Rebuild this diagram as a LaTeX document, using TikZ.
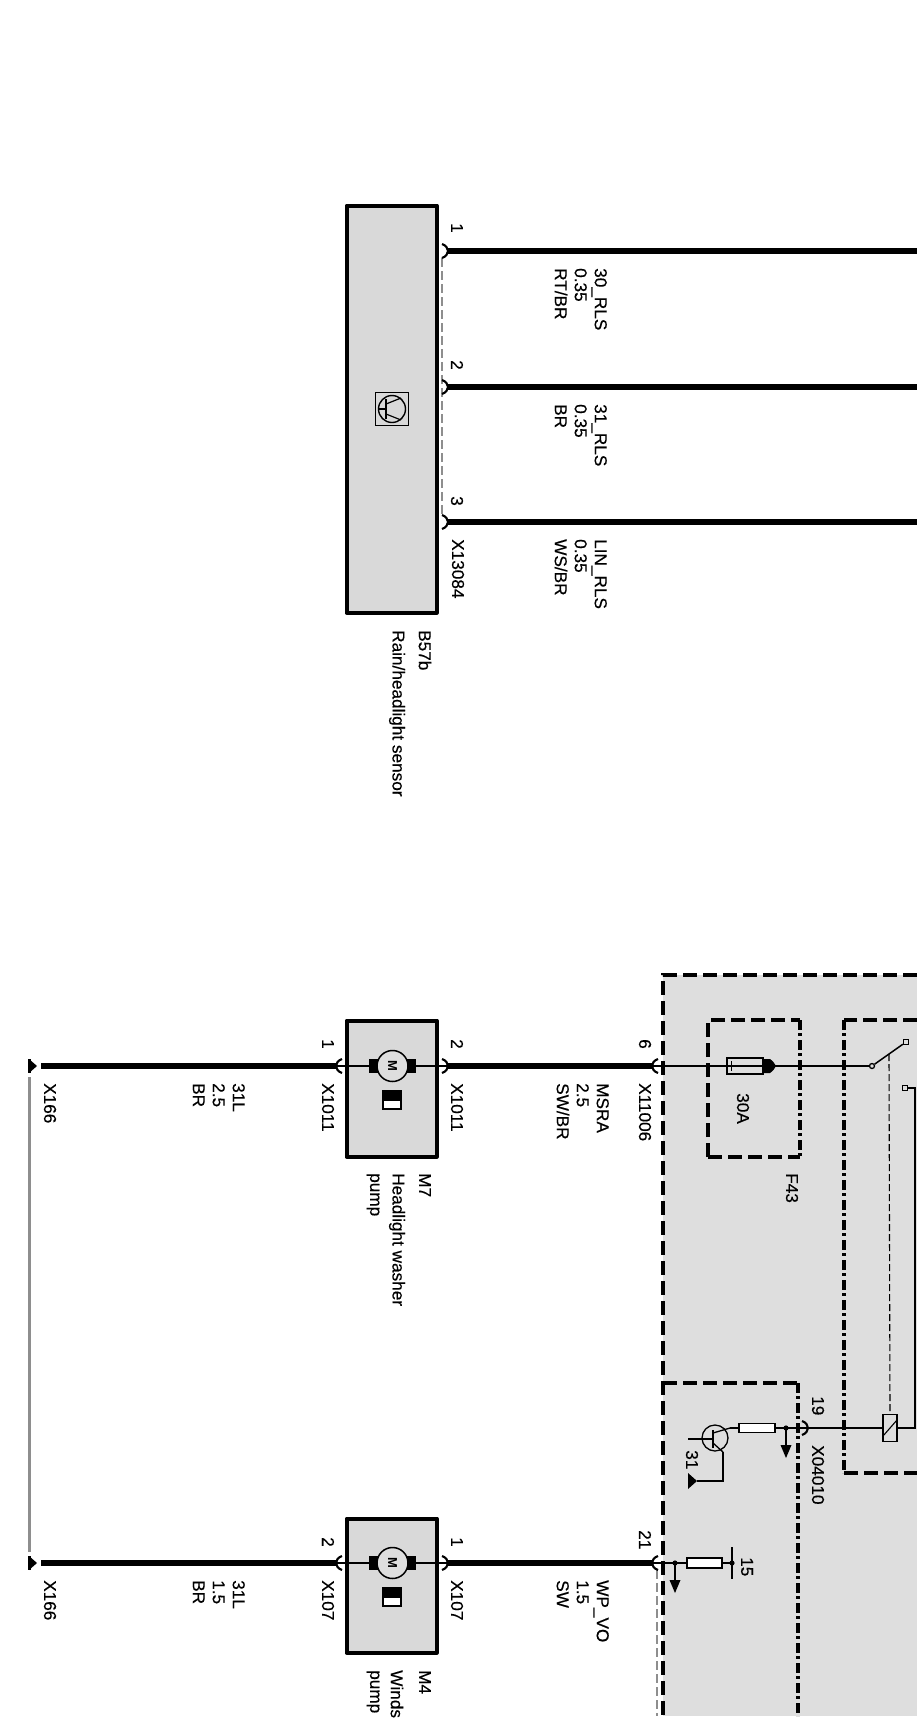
\documentclass[tikz,border=0pt]{standalone}
\usepackage{fontspec}
\setmainfont{Liberation Sans}
\usetikzlibrary{calc}
\definecolor{regiongray}{HTML}{DEDEDE}
\definecolor{boxgray}{HTML}{D9D9D9}
\definecolor{linkgray}{HTML}{8E8E8E}
\newcommand{\lbl}{\fontsize{17.2}{20}\selectfont\addfontfeature{FakeBold=0.35}}
\tikzset{
  x=1pt,y=-1pt,
  lab/.style={inner sep=0pt,rotate=-90,anchor=north west,align=left,font=\lbl},
  labc/.style={inner sep=0pt,rotate=-90,anchor=west,font=\lbl},
  compbox/.style={draw=black,fill=boxgray,line width=4.2pt,line join=round,inner sep=0pt,anchor=north west},
  wire/.style={line width=5.6pt,black},
  thinwire/.style={line width=1.5pt,black},
  regdash/.style={line width=3.6pt,black,dash pattern=on 14pt off 6pt},
  messdash/.style={line width=3.6pt,black,dash pattern=on 10pt off 3pt on 3pt off 4pt},
  linkdash/.style={line width=2.8pt,linkgray,dash pattern=on 9pt off 4pt},
  pinarc/.style={line width=2.1pt,black},
  smallpart/.style={draw=black,line width=1.3pt,inner sep=0pt,anchor=center},
}
\newcommand{\pinR}[1]{\draw[pinarc] ($(#1)+(-5,-7)$) .. controls ($(#1)+(3,-4)$) and ($(#1)+(3,4)$) .. ($(#1)+(-5,7)$);}
\newcommand{\pinL}[1]{\draw[pinarc] ($(#1)+(5,-7)$) .. controls ($(#1)+(-3,-4)$) and ($(#1)+(-3,4)$) .. ($(#1)+(5,7)$);}
\newcommand{\motor}[2]{%
  \node[circle,draw=black,fill=regiongray,line width=1.5pt,minimum size=31pt,inner sep=0pt] (#1c) at (392.5,#2) {};
  \node[fill=black,minimum width=9pt,minimum height=14pt,inner sep=0pt] (#1l) at (373.5,#2) {};
  \node[fill=black,minimum width=9pt,minimum height=14pt,inner sep=0pt] (#1r) at (411,#2) {};
  \node[inner sep=0pt,rotate=-90,font=\fontsize{13}{13}\bfseries\selectfont] (#1m) at (392.5,#2) {M};
  \node[draw=black,fill=white,line width=1.6pt,minimum width=18pt,minimum height=18pt,inner sep=0pt] (#1s) at (392,#2+34) {};
  \fill[black] (383,#2+25) rectangle (401,#2+35);
}
\newcommand{\gnd}[2]{\node[fill=black,minimum width=3pt,minimum height=14pt,inner sep=0pt] (#1) at (29.5,#2) {};
  \fill[black] (29,#2-7) -- (37,#2) -- (29,#2+7) -- cycle;}
\begin{document}
\begin{tikzpicture}
\useasboundingbox (0,0) rectangle (917,1729);
\fill[white] (0,0) rectangle (917,1729);
% ---- gray regions
\fill[regiongray] (663,975) rectangle (917,1716);
% ---- named points
\coordinate (p1) at (447,251); \coordinate (p2) at (447,387); \coordinate (p3) at (447,522);
\coordinate (e1) at (917,251); \coordinate (e2) at (917,387); \coordinate (e3) at (917,522);
\coordinate (m7l) at (337,1066); \coordinate (m7r) at (447,1066);
\coordinate (m4l) at (337,1563); \coordinate (m4r) at (447,1563);
\coordinate (x6) at (653,1066); \coordinate (x21) at (653,1563);
\coordinate (g1) at (41,1066); \coordinate (g2) at (41,1563);
\coordinate (x19) at (807,1428);
% ---- components
\node[compbox,minimum width=90pt,minimum height=407pt] (b57) at (344.5,203.5) {};
\node[compbox,minimum width=90pt,minimum height=136pt] (m7) at (344.5,1018.5) {};
\node[compbox,minimum width=90pt,minimum height=134pt] (m4) at (344.5,1516.5) {};
% ---- dashed frames
\draw[linkdash] (442,258) -- (442,515);
\draw[linkdash] (657,1570) -- (657,1716);
\draw[regdash] (917,975) -- (663,975) -- (663,1716);
\draw[regdash] (708,1157) -- (708,1020) -- (800,1020);
\draw[regdash] (708,1157) -- (800,1157);
\draw[messdash] (800,1020) -- (800,1157);
\draw[regdash] (917,1020) -- (844,1020);
\draw[messdash] (844,1020) -- (844,1473);
\draw[regdash] (844,1473) -- (917,1473);
\draw[regdash] (663,1383) -- (798,1383);
\draw[messdash] (798,1383) -- (798,1716);
% ---- main wires
\draw[wire] (p1) -- (e1);
\draw[wire] (p2) -- (e2);
\draw[wire] (p3) -- (e3);
\draw[wire] (g1) -- (m7l);
\draw[wire] (m7r) -- (x6);
\draw[wire] (g2) -- (m4l);
\draw[wire] (m4r) -- (x21);
% ---- grounds and link
\gnd{gt1}{1066}
\gnd{gt2}{1563}
\draw[line width=3pt,linkgray] (gt1.south) ++(0,4) -- ($(gt2.north)+(0,-4)$);
% ---- motors
\draw[thinwire] (m7l) -- (m7r);
\draw[thinwire] (m4l) -- (m4r);
\motor{mo}{1066}
\motor{mp}{1563}
% ---- pins
\foreach \p in {p1,p2,p3,m7r,m4r,x19} {\pinR{\p}}
\foreach \p in {m7l,m4l,x6,x21} {\pinL{\p}}
% ---- sensor symbol in B57b
\node[draw=black,line width=1.4pt,minimum size=33pt,inner sep=0pt] (sym) at (392,409) {};
\node[circle,draw=black,line width=1.4pt,minimum size=27pt,inner sep=0pt] (symc) at (392,409) {};
\draw[line width=1.2pt] (symc.west) -- (386,409);
\draw[line width=1.2pt] (386,399) -- (386,419);
\draw[line width=1.2pt] (386,404) -- (401,398);
\draw[line width=1.2pt] (386,414) -- (401,420);
% ---- fuse F43
\coordinate (swa) at (872,1066);
\draw[thinwire] (x6) -- (swa);
\node[smallpart,fill=regiongray,minimum width=36pt,minimum height=16pt] (fuse) at (745,1066) {};
\draw[line width=1pt] (731,1061) -- (731,1071);
\draw[thinwire] (727,1066) -- (763,1066);
\fill[black] (763,1059) -- (770,1059) .. controls (773,1061) and (775,1064) .. (776,1066) .. controls (775,1068) and (773,1071) .. (770,1073) -- (763,1073) -- cycle;
% ---- switch and relay
\node[circle,smallpart,fill=regiongray,minimum size=5pt] (cA) at (872,1066) {};
\node[smallpart,fill=regiongray,minimum size=5pt] (cB) at (906,1042) {};
\node[smallpart,fill=regiongray,minimum size=5pt] (cC) at (905,1088) {};
\coordinate (rtop) at (915,1088);
\coordinate (rtw) at (915,1428);
\draw[thinwire] (cA) -- (cB);
\draw[line width=1.8pt] (cC) -- (rtop) -- (rtw) -- (x19);
\node[smallpart,fill=regiongray,minimum width=14pt,minimum height=27pt] (coil) at (890,1428) {};
\draw[line width=1.1pt] (883,1436) -- (897,1420);
\draw[line width=1.1pt,dash pattern=on 7pt off 3pt] (889,1054) -- (coil.north);
% ---- transistor branch
\node[smallpart,fill=white,minimum width=36pt,minimum height=9pt] (res1) at (757,1428) {};
\node[circle,smallpart,minimum size=26pt] (tr) at (715,1438) {};
\coordinate (jn1) at (786,1428);
\coordinate (ar1) at (786,1458);
\coordinate (trb) at (688,1439);
\coordinate (gr) at (697,1481);
\coordinate (gre) at (723,1481);
\coordinate (tre) at (723,1452);
\draw[line width=1.8pt] (x19) -- (res1.east);
\draw[line width=1.8pt] (res1.west) -- (730,1428);
\draw[line width=1.3pt] (trb) -- (713,1439);
\draw[line width=1.6pt] (713,1430) -- (713,1448);
\draw[line width=1.3pt] (713,1433) -- (730,1428);
\draw[line width=1.3pt] (713,1443) -- (tre);
\draw[line width=1.8pt] (tre) -- (gre) -- (gr);
\fill[black] (688,1473) -- (688,1489) -- (697,1481) -- cycle;
\fill[black] (jn1) circle (2.6pt);
\draw[line width=1.8pt] (jn1) -- ($(ar1)+(0,-12)$);
\fill[black] (ar1) -- ++(-5.5,-13) -- ++(11,0) -- cycle;
% ---- K15 branch
\node[smallpart,fill=white,minimum width=35pt,minimum height=10pt] (res2) at (704.5,1563) {};
\coordinate (jn2) at (675,1563);
\coordinate (ar2) at (675,1593);
\coordinate (k15) at (732,1563);
\draw[line width=1.8pt] (x21) -- (res2.west);
\draw[line width=1.8pt] (res2.east) -- (k15);
\draw[line width=1.3pt] (732,1547) -- (732,1579);
\fill[black] (k15) circle (2.6pt);
\fill[black] (jn2) circle (2.6pt);
\draw[line width=1.8pt] (jn2) -- ($(ar2)+(0,-12)$);
\fill[black] (ar2) -- ++(-5.5,-13) -- ++(11,0) -- cycle;
% ---- labels B57b
\node[labc] (t1) at (457,223) {1};
\node[labc] (t2) at (457,360) {2};
\node[labc] (t3) at (457,496) {3};
\node[lab] (t4) at (607,268) {30\_RLS\\0.35\\RT/BR};
\node[lab] (t5) at (607,404) {31\_RLS\\0.35\\BR};
\node[lab] (t6) at (607,539) {LIN\_RLS\\0.35\\WS/BR};
\node[labc] (t7) at (458,539) {X13084};
\node[labc] (t8) at (425,630) {B57b};
\node[labc] (t9) at (397,630) {Rain/headlight sensor};
% ---- labels M7
\node[labc] (t10) at (328,1039) {1};
\node[labc] (t11) at (457,1039) {2};
\node[labc] (t12) at (328,1083) {X1011};
\node[labc] (t13) at (457,1083) {X1011};
\node[labc] (t14) at (425,1173) {M7};
\node[labc] (t15) at (397,1173) {Headlight washer};
\node[labc] (t16) at (373,1173) {pump};
\node[lab] (t17) at (245,1083) {31L\\2.5\\BR};
\node[labc] (t18) at (50,1083) {X166};
\node[lab] (t19) at (609,1083) {MSRA\\2.5\\SW/BR};
\node[labc] (t20) at (645,1083) {X11006};
\node[labc] (t21) at (645,1039) {6};
\node[labc] (t22) at (743,1093) {30A};
\node[labc] (t23) at (792,1173) {F43};
% ---- labels M4
\node[labc] (t24) at (457,1537) {1};
\node[labc] (t25) at (328,1537) {2};
\node[labc] (t26) at (328,1580) {X107};
\node[labc] (t27) at (457,1580) {X107};
\node[lab] (t28) at (609,1580) {WP\_VO\\1.5\\SW};
\node[lab] (t29) at (245,1580) {31L\\1.5\\BR};
\node[labc] (t30) at (50,1580) {X166};
\node[labc] (t31) at (425,1670) {M4};
\node[labc] (t32) at (397,1670) {Winds};
\node[labc] (t33) at (373,1670) {pump};
\node[labc] (t34) at (645,1530) {21};
% ---- labels module
\node[labc] (t35) at (818,1396) {19};
\node[labc] (t36) at (818,1445) {X04010};
\node[labc] (t37) at (692,1450) {31};
\node[labc] (t38) at (747,1557) {15};
\end{tikzpicture}
\end{document}
